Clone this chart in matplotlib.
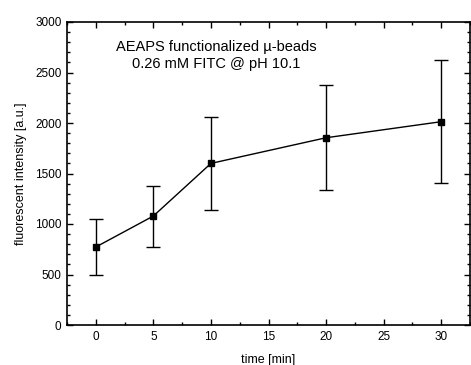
import matplotlib.pyplot as plt
from matplotlib.ticker import MultipleLocator

plt.rcParams['font.family'] = ['Liberation Sans', 'DejaVu Sans']

# data
time_min = [0, 5, 10, 20, 30]
intensity = [772, 1079, 1600, 1854, 2013]
intensity_err = [278, 302, 458, 520, 610]

fig = plt.figure(figsize=(4.71, 3.65), dpi=100)
ax = fig.add_axes([67 / 471, 40 / 365, 403 / 471, 303 / 365])

ax.errorbar(time_min, intensity, yerr=intensity_err, color='black',
            marker='s', markersize=5, linewidth=1, elinewidth=1,
            capsize=5, capthick=1)

ax.set_xlim(-2.5, 32.5)
ax.set_ylim(0, 3000)
ax.xaxis.set_major_locator(MultipleLocator(5))
ax.xaxis.set_minor_locator(MultipleLocator(2.5))
ax.yaxis.set_major_locator(MultipleLocator(500))
ax.yaxis.set_minor_locator(MultipleLocator(100))
ax.tick_params(which='both', direction='in', top=True, right=True,
               labelsize=8.5, width=1, pad=4)
ax.tick_params(which='major', length=4)
ax.tick_params(which='minor', length=2.5)
for s in ax.spines.values():
    s.set_linewidth(1.2)

ax.set_xlabel('time [min]', fontsize=9, labelpad=8)
ax.set_ylabel('fluorescent intensity [a.u.]', fontsize=9, labelpad=6)

ax.text(10.5, 2665, 'AEAPS functionalized µ-beads\n0.26 mM FITC @ pH 10.1',
        ha='center', va='center', multialignment='center',
        fontsize=10.5, linespacing=1.3)

fig.savefig('out.png', dpi=100)
